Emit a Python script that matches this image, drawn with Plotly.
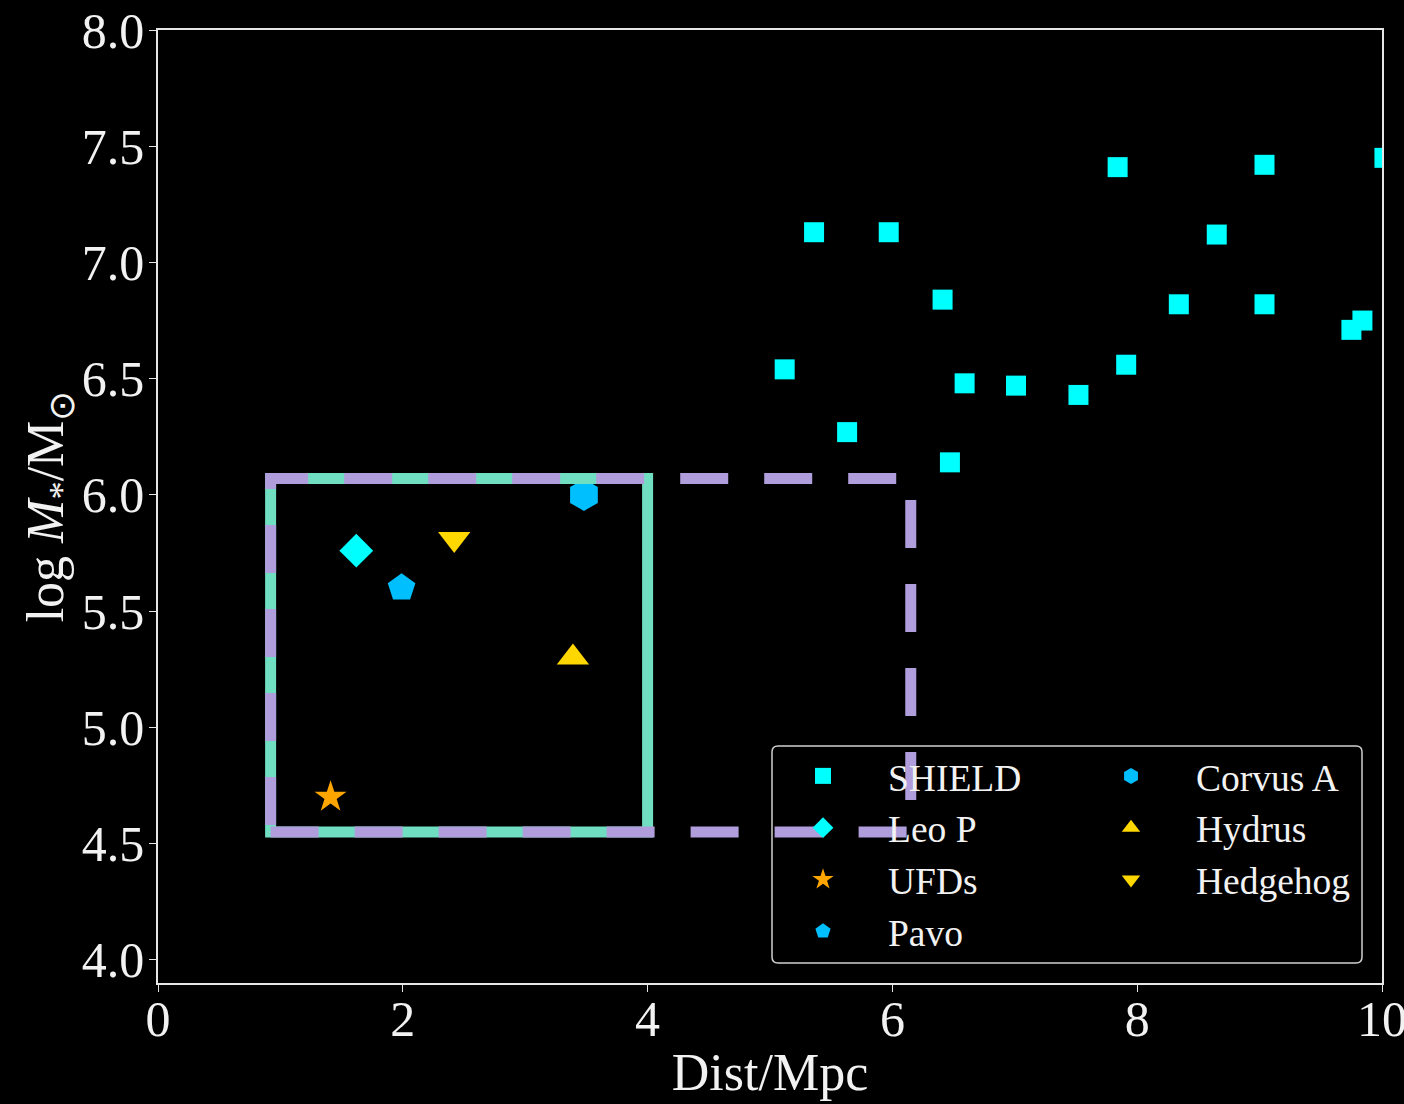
import plotly.graph_objects as go

# ---------------- data ----------------
shield_dist = [5.12, 5.36, 5.63, 5.97, 6.41, 6.47, 6.59, 7.01, 7.52, 7.84,
               7.91, 8.34, 8.65, 9.04, 9.04, 9.75, 9.84, 10.02]
shield_logm = [6.54, 7.13, 6.27, 7.13, 6.84, 6.14, 6.48, 6.47, 6.43, 7.41,
               6.56, 6.82, 7.12, 7.42, 6.82, 6.71, 6.75, 7.45]

obj_names = ["Leo P", "UFDs", "Pavo", "Corvus A", "Hydrus", "Hedgehog"]
obj_dist = [1.62, 1.41, 1.99, 3.48, 3.39, 2.42]
obj_logm = [5.76, 4.70, 5.60, 6.00, 5.30, 5.81]
obj_symbols = ["diamond", "star", "pentagon", "hexagon", "triangle-up", "triangle-down"]
obj_colors = ["#00FFFF", "#FFA500", "#00BFFF", "#00BFFF", "#FFD700", "#FFD700"]
obj_sizes = [26, 24, 29, 32, 28, 28]
obj_legend = ["legend", "legend", "legend", "legend2", "legend2", "legend2"]

# region boxes (data coordinates)
green_box_x = [0.92, 4.0]
purple_box_x = [0.92, 6.15]
box_y = [4.55, 6.07]

x_ticks = [0, 2, 4, 6, 8, 10]
y_ticks = [4.0, 4.5, 5.0, 5.5, 6.0, 6.5, 7.0, 7.5, 8.0]

FONT = "Liberation Serif"
TXT = "#f2f2f2"

fig = go.Figure()
fig.add_trace(go.Scatter(
    x=shield_dist, y=shield_logm, mode="markers", name="SHIELD",
    marker=dict(symbol="square", size=20, color="#00FFFF"),
    legend="legend"))
for n, xd, yd, s, c, sz, lg in zip(obj_names, obj_dist, obj_logm, obj_symbols,
                                   obj_colors, obj_sizes, obj_legend):
    fig.add_trace(go.Scatter(
        x=[xd], y=[yd], mode="markers", name=n,
        marker=dict(symbol=s, size=sz, color=c), legend=lg))

# plot-area geometry (px) for paper conversions of the legend frame
L, R, T, B = 158, 22, 30, 121
W, H = 1404, 1104
PW, PH = W - L - R, H - T - B


def px2paper(px, py):
    return (px - L) / PW, 1 - (py - T) / PH


fx0, fy0 = px2paper(772, 963)
fx1, fy1 = px2paper(1362, 746)
rx, ry = 6 / PW, 6 / PH
frame_path = (f"M{fx0+rx},{fy0} L{fx1-rx},{fy0} Q{fx1},{fy0} {fx1},{fy0+ry} "
              f"L{fx1},{fy1-ry} Q{fx1},{fy1} {fx1-rx},{fy1} "
              f"L{fx0+rx},{fy1} Q{fx0},{fy1} {fx0},{fy1-ry} "
              f"L{fx0},{fy0+ry} Q{fx0},{fy0} {fx0+rx},{fy0} Z")

shapes = [
    dict(type="path", xref="paper", yref="paper", path=frame_path,
         line=dict(color="#cfcfcf", width=1.5), fillcolor="rgba(0,0,0,0)",
         layer="above"),
    dict(type="rect", xref="x", yref="y",
         x0=green_box_x[0], x1=green_box_x[1], y0=box_y[0], y1=box_y[1],
         line=dict(color="#70DEC1", width=11), layer="above"),
    dict(type="rect", xref="x", yref="y",
         x0=purple_box_x[0], x1=purple_box_x[1], y0=box_y[0], y1=box_y[1],
         line=dict(color="#B09EDC", width=11, dash="48px,36px"), layer="above"),
]

lx1, ly = px2paper(758, 745)
lx2, _ = px2paper(1066, 745)
leg_common = dict(bgcolor="rgba(0,0,0,0)", borderwidth=0,
                  font=dict(family=FONT, size=37.5, color=TXT),
                  itemwidth=120, yanchor="top", xanchor="left",
                  orientation="v", tracegroupgap=0)

axis_common = dict(showgrid=False, zeroline=False, showline=True, linecolor="#e6e6e6",
                   linewidth=1.6, mirror=True, ticks="outside", ticklen=7,
                   tickcolor="#e6e6e6", tickwidth=1.4, automargin=False,
                   ticklabeloverflow="allow",
                   tickfont=dict(family=FONT, size=50, color=TXT))

fig.update_layout(
    width=W, height=H,
    margin=dict(l=L, r=R, t=T, b=B, autoexpand=False),
    paper_bgcolor="#000000", plot_bgcolor="#000000",
    font=dict(family=FONT, color=TXT),
    showlegend=True,
    legend=dict(x=lx1, y=ly, **leg_common),
    legend2=dict(x=lx2, y=ly, **leg_common),
    shapes=shapes,
    xaxis=dict(range=[0, 10], tickvals=x_ticks, ticktext=[str(v) for v in x_ticks],
               ticklabelstandoff=-16,
               title=dict(text="Dist/Mpc", font=dict(family=FONT, size=52, color=TXT),
                          standoff=8),
               **axis_common),
    yaxis=dict(range=[3.9, 8.0], tickvals=y_ticks, ticktext=[f"{v:.1f}" for v in y_ticks],
               ticklabelstandoff=-5,
               title=dict(text="log <i>M</i><sub>*</sub>/M<sub>⊙</sub>",
                          font=dict(family=FONT, size=52, color=TXT), standoff=1),
               **axis_common),
)

fig.write_html("out.html")
